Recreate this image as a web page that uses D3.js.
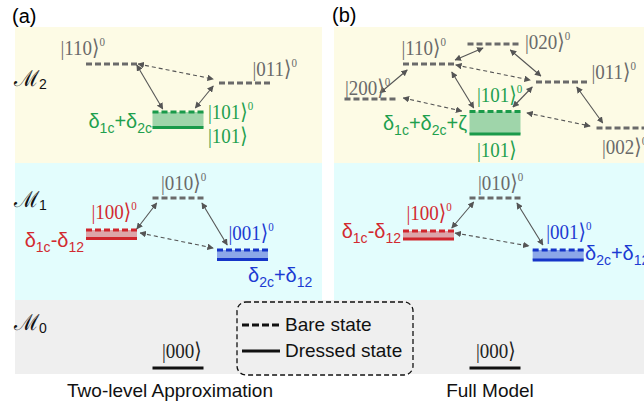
<!DOCTYPE html>
<html>
<head>
<meta charset="utf-8">
<script src="https://cdn.jsdelivr.net/npm/d3@7"></script>
<style>body{margin:0;background:#fff;}</style>
</head>
<body>
<script>
// energy levels: col = horizontal slot, bare / dressed energy (arb. units)
var levelsA = [
    {ket: "110", col: 0,    bare: 30.4,  dressed: null,  c: "grey"},
    {ket: "011", col: 2,    bare: 28.5,  dressed: null,  c: "grey"},
    {ket: "101", col: 1,    bare: 25.6,  dressed: 24.05, c: "green"},
    {ket: "010", col: 1,    bare: 17.0,  dressed: null,  c: "grey"},
    {ket: "100", col: 0,    bare: 13.8,  dressed: 12.95, c: "red"},
    {ket: "001", col: 1.97, bare: 11.8,  dressed: 10.85, c: "blue"},
    {ket: "000", col: 1,    bare: null,  dressed: 0,     c: "black"}
];
var levelsB = [
    {ket: "020", col: 0.97,  bare: 32.4,  dressed: null, c: "grey"},
    {ket: "110", col: 0,     bare: 30.4,  dressed: null, c: "grey"},
    {ket: "011", col: 2,     bare: 28.6,  dressed: null, c: "grey"},
    {ket: "200", col: -0.88, bare: 26.9,  dressed: null, c: "grey"},
    {ket: "101", col: 1,     bare: 25.65, dressed: 23.4, c: "green"},
    {ket: "002", col: 2.91,  bare: 24.0,  dressed: null, c: "grey"},
    {ket: "010", col: 1,     bare: 17.0,  dressed: null, c: "grey"},
    {ket: "100", col: 0,     bare: 13.7,  dressed: 12.9, c: "red"},
    {ket: "001", col: 1.95,  bare: 11.8,  dressed: 10.8, c: "blue"},
    {ket: "000", col: 1,     bare: null,  dressed: 0,    c: "black"}
];

// couplings [col1, E1, col2, E2, dashed]
var arrowsA = [
    [0.38, 30.3, 0.77, 25.9, 0],
    [0.40, 30.4, 1.53, 28.9, 1],
    [1.53, 28.2, 1.26, 26.0, 0],
    [0.38, 13.9, 0.68, 16.5, 0],
    [1.36, 16.5, 1.74, 12.3, 0],
    [0.43, 13.5, 1.53, 12.0, 1]
];
var arrowsB = [
    [-0.73, 27.5, -0.32, 29.8, 0],
    [0.40, 30.8, 0.82, 32.0, 0],
    [0.41, 30.3, 1.53, 28.8, 1],
    [1.23, 31.8, 1.69, 29.2, 0],
    [0.35, 29.6, 0.68, 26.0, 0],
    [-0.38, 27.0, 0.50, 25.7, 1],
    [1.56, 28.1, 1.27, 26.1, 0],
    [2.23, 28.1, 2.62, 24.5, 0],
    [1.48, 25.5, 2.43, 24.2, 1],
    [0.35, 14.0, 0.68, 16.6, 0],
    [1.33, 16.5, 1.72, 12.3, 0],
    [0.40, 13.5, 1.51, 12.2, 1]
];

var manifolds = ["2", "1", "0"];
var titles = ["Two-level Approximation", "Full Model"];
var legendItems = ["Bare state", "Dressed state"];

var colors = {
    grey:  {line: "#6a6a6a", fill: "none",    text: "#6a6a6a"},
    green: {line: "#1a9a4a", fill: "#9fd5aa", text: "#1fa04e"},
    red:   {line: "#d0262d", fill: "#dca5a9", text: "#d22a30"},
    blue:  {line: "#1535c8", fill: "#8ca7e8", text: "#1c3bd2"},
    black: {line: "#111",    fill: "none",    text: "#222"}
};

var W = 644, H = 412, LW = 51;
var svg = d3.select("body").append("svg").attr("width", W).attr("height", H);

var y = d3.scaleLinear().domain([0, 32]).range([368, 48]);
var xa = d3.scaleLinear().domain([0, 2]).range([111.5, 244.5]);
var xb = d3.scaleLinear().domain([0, 2]).range([428.5, 561.5]);

// background bands
svg.append("rect").attr("x", 15).attr("y", 27).attr("width", 307).attr("height", 136).attr("fill", "#fdfbe5");
svg.append("rect").attr("x", 334).attr("y", 27).attr("width", 310).attr("height", 136).attr("fill", "#fdfbe5");
svg.append("rect").attr("x", 15).attr("y", 163).attr("width", 307).attr("height", 137).attr("fill", "#e3fdfd");
svg.append("rect").attr("x", 334).attr("y", 163).attr("width", 310).attr("height", 137).attr("fill", "#e3fdfd");
svg.append("rect").attr("x", 15).attr("y", 300).attr("width", 629).attr("height", 74).attr("fill", "#efefef");

var defs = svg.append("defs");
defs.append("marker").attr("id", "ah").attr("viewBox", "0 0 10 10")
    .attr("refX", 9).attr("refY", 5).attr("markerWidth", 6.5).attr("markerHeight", 6.5)
    .attr("markerUnits", "userSpaceOnUse").attr("orient", "auto-start-reverse")
    .append("path").attr("d", "M0,0L10,5L0,10z").attr("fill", "#555");

var SERIF = "Liberation Serif, DejaVu Serif, serif";
var SANS = "Liberation Sans, Arial, sans-serif";

// ket text, stretched a little vertically like the original
function ket(g, x, yy, digits, sup, col) {
    var t = g.append("text").attr("transform", "translate(" + x + "," + yy + ") scale(1,1.15)")
        .attr("font-family", SERIF).attr("font-size", 19).attr("fill", col);
    t.append("tspan").text("|" + digits + "\u27E9");
    if (sup) t.append("tspan").attr("dy", -8).attr("font-size", 11).text("0");
}

// parts: [text, isSub]
function subText(g, x, yy, parts, col, anchor) {
    var t = g.append("text").attr("x", x).attr("y", yy).attr("text-anchor", anchor || "start")
        .attr("font-family", SANS).attr("font-size", 20).attr("fill", col);
    var down = false;
    parts.forEach(function(p) {
        var dy = 0;
        if (p[1] && !down) { dy = 5; down = true; }
        else if (!p[1] && down) { dy = -5; down = false; }
        t.append("tspan").attr("dy", dy).attr("font-size", p[1] ? 14 : 20).text(p[0]);
    });
    return t;
}

function drawPanel(xs, levels, arrows) {
    var g = svg.append("g");
    levels.forEach(function(d) {
        var c = colors[d.c], x0 = xs(d.col) - LW / 2;
        if (d.bare != null && d.dressed != null) {
            g.append("rect").attr("x", x0).attr("y", y(d.bare))
                .attr("width", LW).attr("height", y(d.dressed) - y(d.bare)).attr("fill", c.fill);
        }
        if (d.dressed != null) {
            g.append("line").attr("x1", x0).attr("x2", x0 + LW)
                .attr("y1", y(d.dressed)).attr("y2", y(d.dressed))
                .attr("stroke", c.line).attr("stroke-width", 3);
        }
        if (d.bare != null) {
            g.append("line").attr("x1", x0).attr("x2", x0 + LW)
                .attr("y1", y(d.bare)).attr("y2", y(d.bare))
                .attr("stroke", c.line).attr("stroke-width", 3).attr("stroke-dasharray", "6,3");
        }
    });
    arrows.forEach(function(a) {
        g.append("line").attr("x1", xs(a[0])).attr("y1", y(a[1]))
            .attr("x2", xs(a[2])).attr("y2", y(a[3]))
            .attr("stroke", "#555").attr("stroke-width", 1.1)
            .attr("stroke-dasharray", a[4] ? "4,3" : null)
            .attr("marker-start", "url(#ah)").attr("marker-end", "url(#ah)");
    });
    return g;
}

var ga = drawPanel(xa, levelsA, arrowsA);
var gb = drawPanel(xb, levelsB, arrowsB);

function lev(levels, k) { return levels.filter(function(d) { return d.ket === k; })[0]; }

// ket labels: [ket, which, dx from level centre, dy from level]
var ketPosA = [
    ["110", "bare", -51, -9], ["011", "bare", 8, -7], ["101", "bare", 30, 7],
    ["101", "dressed", 30, 15], ["010", "bare", -17, -8], ["100", "bare", -20, -11],
    ["001", "bare", -14, -10], ["000", "dressed", -16, -10]
];
var ketPosB = [
    ["200", "bare", -25, -4], ["110", "bare", -27, -9], ["020", "bare", 32, 5],
    ["011", "bare", 30, -3], ["101", "bare", -18, -9.5], ["101", "dressed", -18, 23],
    ["002", "bare", -20, 26], ["010", "bare", -17, -8], ["100", "bare", -22, -11],
    ["001", "bare", -12, -11], ["000", "dressed", -19, -10]
];
function ketLabels(g, xs, levels, pos) {
    pos.forEach(function(p) {
        var d = lev(levels, p[0]);
        ket(g, xs(d.col) + p[2], y(d[p[1]]) + p[3], p[0], p[1] === "bare", colors[d.c].text);
    });
}
ketLabels(ga, xa, levelsA, ketPosA);
ketLabels(gb, xb, levelsB, ketPosB);

// detuning labels
subText(ga, 152, 128, [["\u03B4", 0], ["1c", 1], ["+\u03B4", 0], ["2c", 1]], colors.green.text, "end");
subText(ga, 84, 247, [["\u03B4", 0], ["1c", 1], ["-\u03B4", 0], ["12", 1]], colors.red.text, "end");
subText(ga, 248, 282, [["\u03B4", 0], ["2c", 1], ["+\u03B4", 0], ["12", 1]], colors.blue.text);
subText(gb, 467, 130, [["\u03B4", 0], ["1c", 1], ["+\u03B4", 0], ["2c", 1], ["+\u03B6", 0]], colors.green.text, "end");
subText(gb, 401, 238, [["\u03B4", 0], ["1c", 1], ["-\u03B4", 0], ["12", 1]], colors.red.text, "end");
subText(gb, 585, 260, [["\u03B4", 0], ["2c", 1], ["+\u03B4", 0], ["12", 1]], colors.blue.text);

// manifold labels
var mY = [86, 207, 330];
manifolds.forEach(function(m, i) {
    var t = svg.append("text").attr("x", 14).attr("y", mY[i]).attr("fill", "#111")
        .attr("font-family", "DejaVu Serif, serif").attr("font-size", 22);
    t.append("tspan").text("\u2133");
    t.append("tspan").attr("font-family", SANS).attr("font-size", 14).attr("dy", 3).text(m);
});

// panel tags
svg.append("text").attr("x", 12).attr("y", 23).attr("font-family", SANS).attr("font-size", 20).text("(a)");
svg.append("text").attr("x", 332).attr("y", 22).attr("font-family", SANS).attr("font-size", 20).text("(b)");

// titles
[170, 490].forEach(function(cx, i) {
    svg.append("text").attr("x", cx).attr("y", 397).attr("text-anchor", "middle")
        .attr("font-family", SANS).attr("font-size", 19).attr("fill", "#111").text(titles[i]);
});

// legend
var lg = svg.append("g");
lg.append("rect").attr("x", 237).attr("y", 302).attr("width", 176).attr("height", 73).attr("rx", 9)
    .attr("fill", "none").attr("stroke", "#111").attr("stroke-width", 1.3).attr("stroke-dasharray", "5,3");
legendItems.forEach(function(s, i) {
    var ly = 325 + i * 26;
    lg.append("line").attr("x1", 242).attr("x2", 280).attr("y1", ly).attr("y2", ly)
        .attr("stroke", "#111").attr("stroke-width", 3).attr("stroke-dasharray", i === 0 ? "7,3" : null);
    lg.append("text").attr("x", 285).attr("y", ly + 6).attr("font-family", SANS).attr("font-size", 19)
        .attr("fill", "#111").text(s);
});
</script>
</body>
</html>
